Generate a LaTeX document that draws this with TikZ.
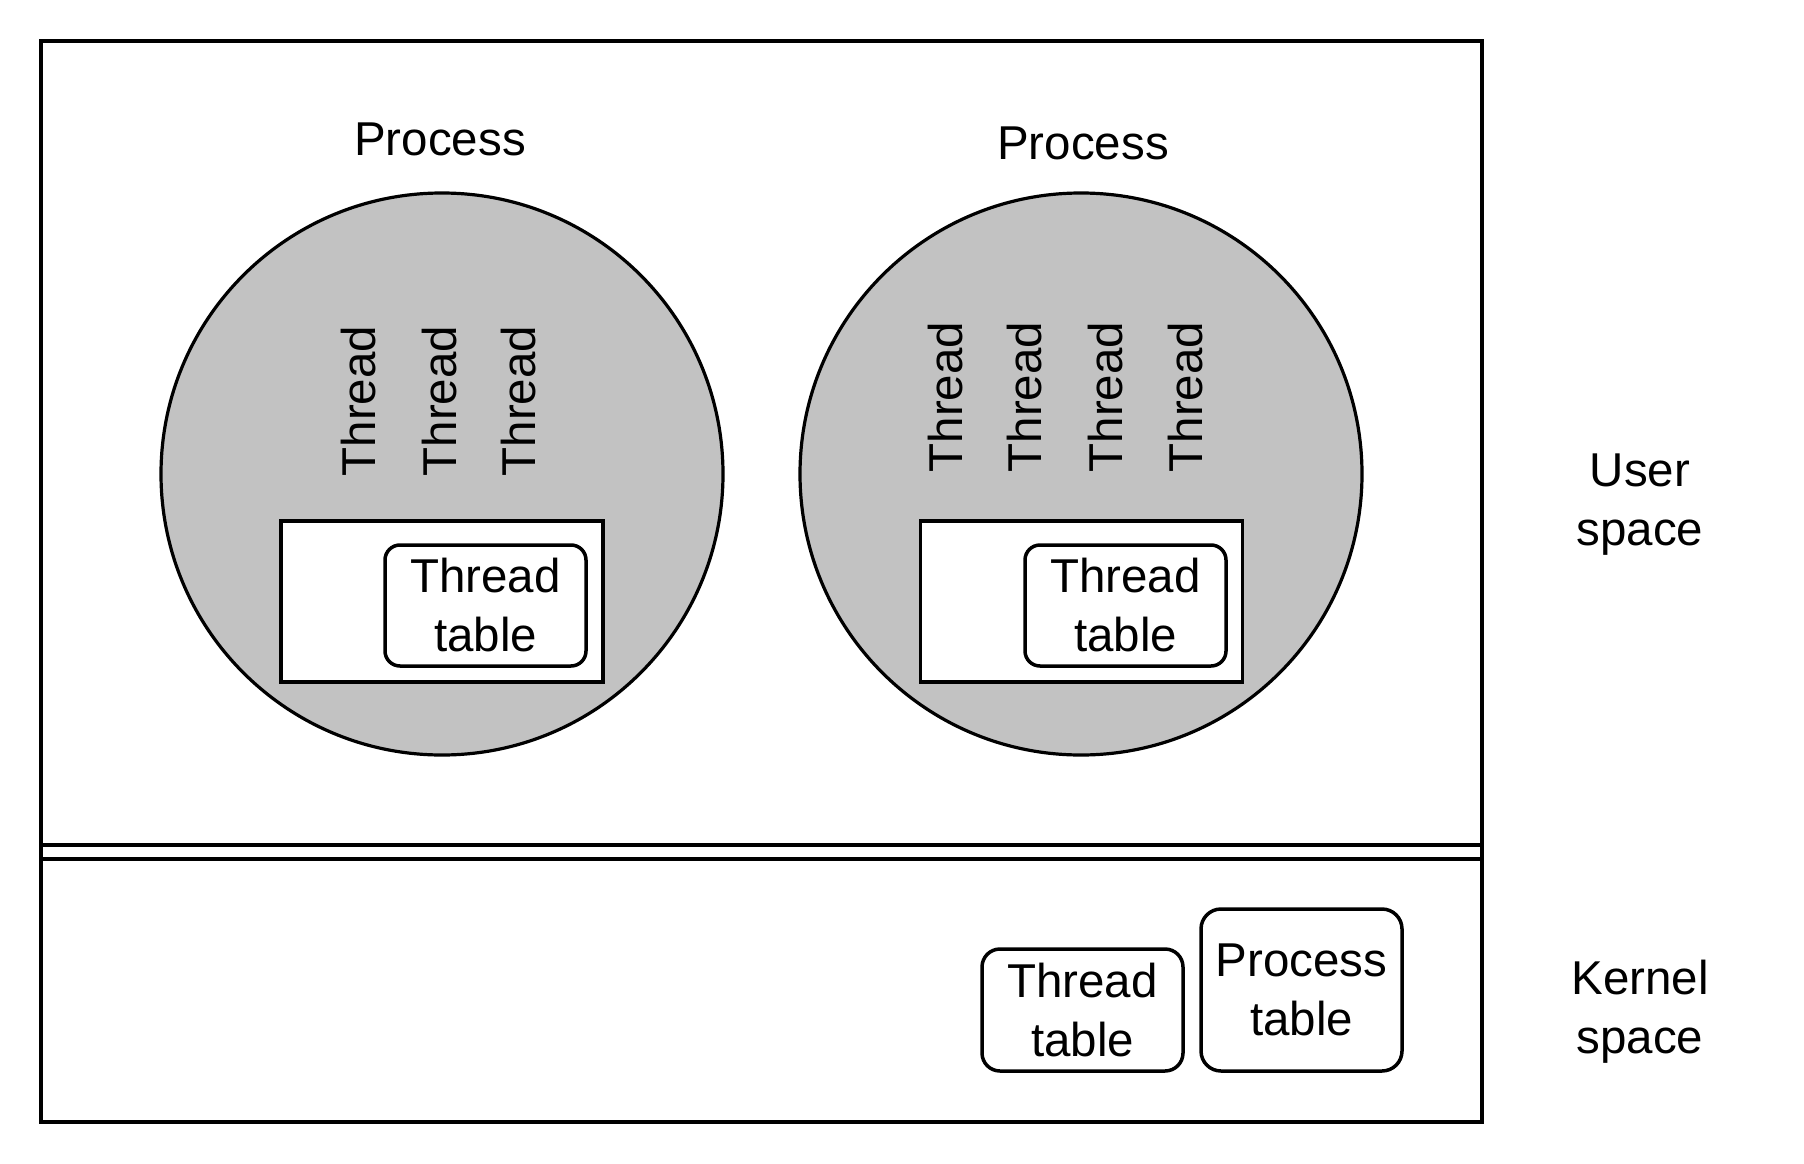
\documentclass[tikz,border=0pt]{standalone}
\usepackage{fontspec}
\setmainfont{Liberation Sans}
\definecolor{procgray}{RGB}{194,194,194}
\tikzset{
  box/.style={draw, line width=3.5pt, inner sep=0pt, outer sep=0pt},
  proc/.style={circle, draw, fill=procgray, line width=3.2pt, inner sep=0pt, minimum size=562pt},
  holder/.style={box, fill=white, minimum width=322pt, minimum height=161pt},
  tbl/.style={box, fill=white, rounded corners=15pt, align=center, font=\fontsize{47.5}{59}\selectfont, minimum width=201pt},
  lbl/.style={inner sep=0pt, align=center, font=\fontsize{47.5}{59}\selectfont},
  thr/.style={lbl, rotate=90},
}
\begin{document}
\begin{tikzpicture}[x=1pt,y=-1pt]
\useasboundingbox (0,0) rectangle (1804,1164);
% outer frame
\node[box, minimum width=1441pt, minimum height=1081pt] (outer) at (761.5,581.5) {};
\coordinate (d1l) at (41,845);
\coordinate (d1r) at (1482,845);
\coordinate (d2l) at (41,859);
\coordinate (d2r) at (1482,859);
\draw[line width=3.5pt] (d1l) -- (d1r);
\draw[line width=3.5pt] (d2l) -- (d2r);
% process 1
\node[lbl] (plab1) at (440,139) {Process};
\node[proc] (p1) at (442,474) {};
\node[thr] (t11) at (359,401) {Thread};
\node[thr] (t12) at (440,401) {Thread};
\node[thr] (t13) at (519,401) {Thread};
\node[holder] (h1) at (442,601.5) {};
\node[tbl, minimum height=121pt] (tt1) at (485.5,605.5) {Thread\\table};
% process 2
\node[lbl] (plab2) at (1083,143) {Process};
\node[proc] (p2) at (1081,474) {};
\node[thr] (t21) at (946,397) {Thread};
\node[thr] (t22) at (1025,397) {Thread};
\node[thr] (t23) at (1106,397) {Thread};
\node[thr] (t24) at (1186,397) {Thread};
\node[holder] (h2) at (1081.5,601.5) {};
\node[tbl, minimum height=121pt] (tt2) at (1125.5,605.5) {Thread\\table};
% kernel
\node[tbl, rounded corners=18pt, minimum height=122pt] (ktt) at (1082.5,1010) {Thread\\table};
\node[tbl, rounded corners=20pt, minimum height=162pt] (kpt) at (1301.5,990) {Process\\table};
% side labels
\node[lbl] (user) at (1640,505) {User\\space};
\node[lbl] (kern) at (1640,1012) {Kernel\\space};
\end{tikzpicture}
\end{document}
